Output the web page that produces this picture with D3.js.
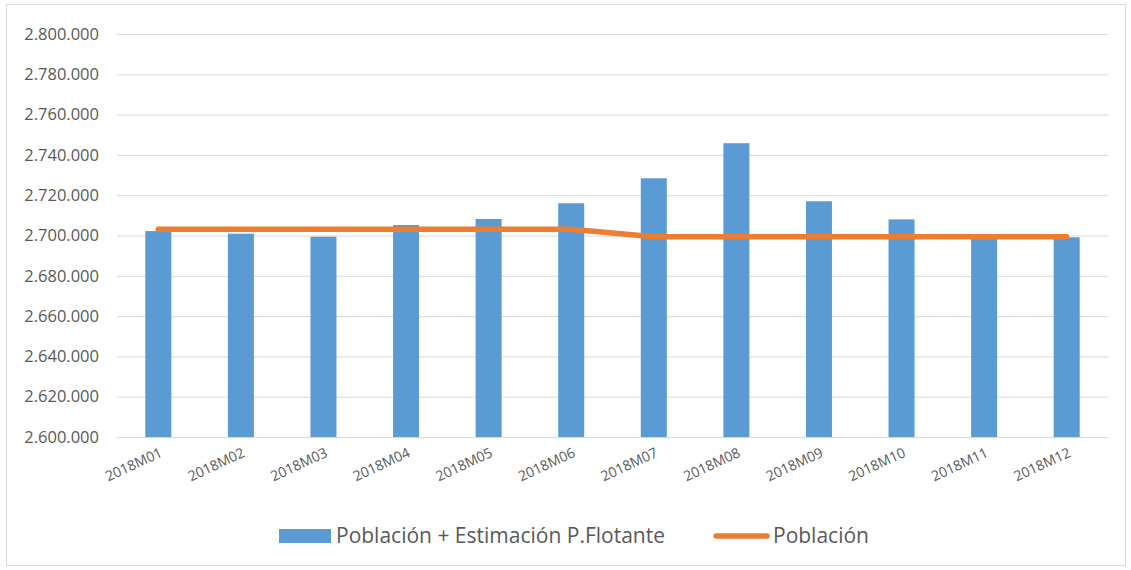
<!DOCTYPE html>
<html><head><meta charset="utf-8">
<script src="https://cdn.jsdelivr.net/npm/d3@7"></script>
<style>body{margin:0;background:#fff}svg{display:block;font-family:"Open Sans",sans-serif}</style>
</head><body><svg id="c" width="1131" height="570"></svg>
<script>
const categories = ["2018M01","2018M02","2018M03","2018M04","2018M05","2018M06","2018M07","2018M08","2018M09","2018M10","2018M11","2018M12"];
const barValues = [2702200,2700900,2699400,2705200,2708200,2716000,2728400,2745800,2717000,2708000,2699000,2699100];
const lineValues = [2703100,2703100,2703100,2703100,2703100,2703100,2699400,2699400,2699400,2699400,2699400,2699400];
const yTicks = [2600000,2620000,2640000,2660000,2680000,2700000,2720000,2740000,2760000,2780000,2800000];
const seriesNames = ["Población + Estimación P.Flotante","Población"];

const svg = d3.select("#c");
const m = {l:117, r:1108, t:34, b:437};
svg.append("rect").attr("x",6.5).attr("y",4.5).attr("width",1119).attr("height",561)
  .attr("fill","none").attr("stroke","#D9D9D9");

const x = d3.scaleBand().domain(categories).range([m.l,m.r]).paddingInner(0.685).paddingOuter(0.3425);
const y = d3.scaleLinear().domain([2600000,2800000]).range([m.b,m.t]);
const fmt = v => d3.format(",")(v).replace(/,/g,".");

const yAxis = d3.axisLeft(y).tickValues(yTicks).tickSize(-(m.r-m.l)).tickPadding(18).tickFormat(fmt);
const gy = svg.append("g").attr("transform",`translate(${m.l},0)`).call(yAxis);
gy.select(".domain").remove();
gy.selectAll(".tick line").attr("stroke","#D9D9D9").attr("stroke-width",1);
gy.selectAll(".tick text").attr("fill","#595959").attr("font-size","16.5px").attr("font-family","Open Sans");

svg.append("g").selectAll("rect").data(barValues).join("rect")
  .attr("x",(d,i)=>x(categories[i])).attr("width",x.bandwidth())
  .attr("y",d=>y(d)).attr("height",d=>y(2600000)-y(d)).attr("fill","#5B9BD5");

const xAxis = d3.axisBottom(x).tickSize(0).tickPadding(0);
const gx = svg.append("g").attr("transform",`translate(0,${m.b})`).call(xAxis);
gx.select(".domain").attr("stroke","#D9D9D9");
gx.selectAll(".tick text").attr("fill","#595959").attr("font-size","14px").attr("font-family","Open Sans")
  .attr("text-anchor","end").attr("dy",null).attr("y",null)
  .attr("transform","translate(5,19) rotate(-25)");

const line = d3.line().x((d,i)=>x(categories[i])+x.bandwidth()/2).y(d=>y(d));
svg.append("path").datum(lineValues).attr("d",line).attr("fill","none")
  .attr("stroke","#ED7D31").attr("stroke-width",5.5).attr("stroke-linecap","round").attr("stroke-linejoin","round");

const lg = svg.append("g").attr("font-family","Open Sans").attr("font-size","21px").attr("fill","#595959");
lg.append("rect").attr("x",279).attr("y",529).attr("width",52).attr("height",14).attr("fill","#5B9BD5");
lg.append("text").attr("x",336).attr("y",543).text(seriesNames[0]);
lg.append("line").attr("x1",716).attr("x2",767).attr("y1",536).attr("y2",536)
  .attr("stroke","#ED7D31").attr("stroke-width",5.5).attr("stroke-linecap","round");
lg.append("text").attr("x",773).attr("y",543).text(seriesNames[1]);
</script></body></html>
